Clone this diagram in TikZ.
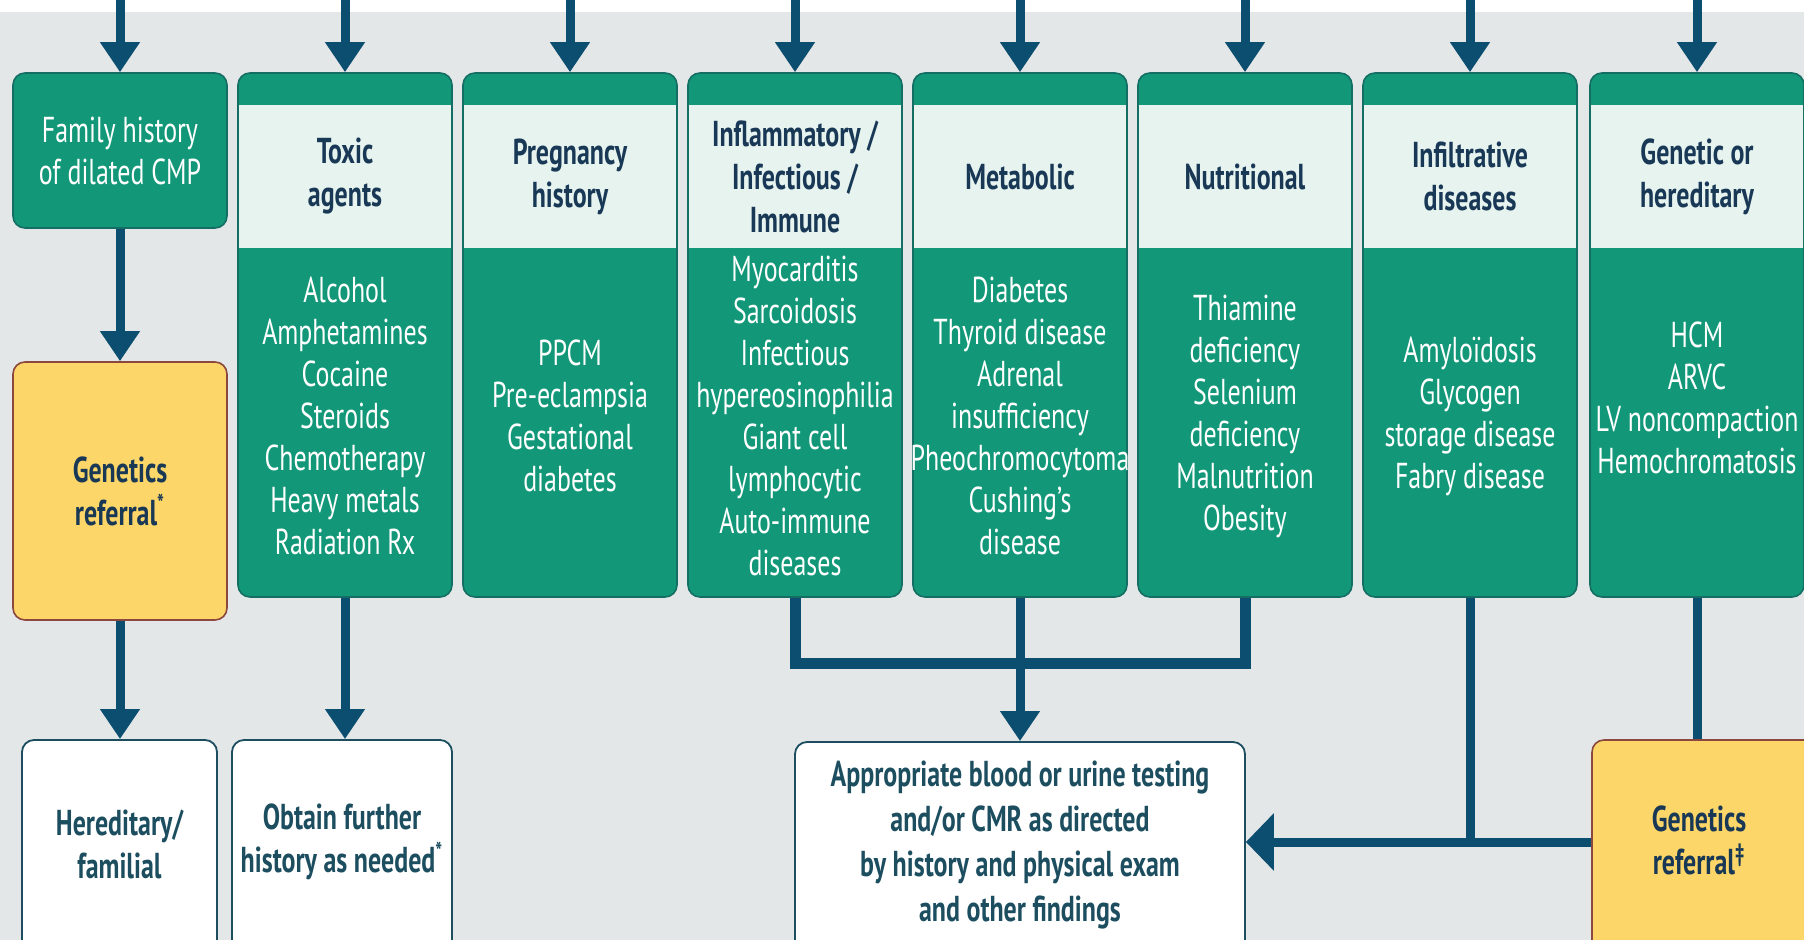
\documentclass[tikz,border=0pt]{standalone}
\usepackage{fontspec}
\setmainfont{PT Sans}[FakeStretch=0.72]
\usetikzlibrary{arrows.meta}
\definecolor{bggray}{RGB}{228,231,231}
\definecolor{grn}{RGB}{18,152,120}
\definecolor{grnedge}{RGB}{20,110,100}
\definecolor{hdrfill}{RGB}{230,243,239}
\definecolor{navy}{RGB}{12,78,112}
\definecolor{hdrtext}{RGB}{24,56,86}
\definecolor{boxtext}{RGB}{28,78,96}
\definecolor{yel}{RGB}{252,214,104}
\definecolor{yeledge}{RGB}{140,72,62}
\begin{document}
\begin{tikzpicture}[x=0.5pt,y=-0.5pt,
  font=\fontsize{18}{21}\selectfont,
  colbox/.style={draw=grnedge,fill=grn,line width=0.8pt,rounded corners=6pt,
    minimum width=107pt,minimum height=262pt,inner sep=0pt},
  hdr/.style={fill=hdrfill,minimum width=105.6pt,minimum height=71.5pt,inner sep=0pt,
    align=center,text=hdrtext,font=\fontsize{18}{21.5}\selectfont\bfseries},
  bodytxt/.style={align=center,text=white,inner sep=0pt},
  famstyle/.style={draw=grnedge,fill=grn,line width=0.8pt,rounded corners=6pt,
    minimum width=107pt,minimum height=77.5pt,inner sep=0pt,align=center,text=white},
  yelbox/.style={draw=yeledge,fill=yel,line width=0.8pt,rounded corners=6pt,inner sep=0pt},
  whitebox/.style={draw=boxtext,fill=white,line width=0.9pt,rounded corners=6pt,inner sep=0pt},
  btxt/.style={align=center,inner sep=0pt,font=\fontsize{18}{21.5}\selectfont\bfseries},
  conn/.style={draw=navy,line width=4.5pt},
  arr/.style={conn,-{Triangle[length=15pt,width=19pt]}},
  bigarr/.style={conn,-{Triangle[length=14pt,width=28pt]}}
]
\useasboundingbox (0,0) rectangle (1804,940);
\clip (0,0) rectangle (1804,940);
\fill[white] (0,0) rectangle (1804,940);
\fill[bggray] (0,12) rectangle (1804,940);

% top entry coordinates
\foreach \n/\x in {c0/120,c1/345,c2/570,c3/795,c4/1020,c5/1245,c6/1470,c7/1697}
  \coordinate (\n) at (\x,0);

% family history
\node[famstyle] (fam) at (120,150.5) {Family history\\of dilated CMP};

% column boxes
\node[colbox] (tox) at (345,335) {};
\node[colbox] (prg) at (570,335) {};
\node[colbox] (inf) at (795,335) {};
\node[colbox] (met) at (1020,335) {};
\node[colbox] (nut) at (1245,335) {};
\node[colbox] (ifl) at (1470,335) {};
\node[colbox] (gen) at (1697,335) {};

% headers
\node[hdr] (toxh) at (345,176.5) {Toxic\\agents};
\node[hdr] (prgh) at (570,176.5) {Pregnancy\\history};
\node[hdr] (infh) at (795,176.5) {Inflammatory /\\Infectious /\\Immune};
\node[hdr] (meth) at (1020,176.5) {Metabolic};
\node[hdr] (nuth) at (1245,176.5) {Nutritional};
\node[hdr] (iflh) at (1470,176.5) {Infiltrative\\diseases};
\node[hdr] (genh) at (1697,176.5) {Genetic or\\hereditary};

% bodies
\node[bodytxt] (toxb) at (345,416) {Alcohol\\Amphetamines\\Cocaine\\Steroids\\Chemotherapy\\Heavy metals\\Radiation Rx};
\node[bodytxt] (prgb) at (570,416) {PPCM\\Pre-eclampsia\\Gestational\\diabetes};
\node[bodytxt] (infb) at (795,416) {Myocarditis\\Sarcoidosis\\Infectious\\hypereosinophilia\\Giant cell\\lymphocytic\\Auto-immune\\diseases};
\node[bodytxt] (metb) at (1020,416) {Diabetes\\Thyroid disease\\Adrenal\\insufficiency\\Pheochromocytoma\\Cushing’s\\disease};
\node[bodytxt] (nutb) at (1245,416) {Thiamine\\deficiency\\Selenium\\deficiency\\Malnutrition\\Obesity};
\node[bodytxt] (iflb) at (1470,416) {Amyloïdosis\\Glycogen\\storage disease\\Fabry disease};
\node[bodytxt] (genb) at (1697,398) {HCM\\ARVC\\LV noncompaction\\Hemochromatosis};

% genetics referral left
\node[yelbox,minimum width=107pt,minimum height=129pt] (genL) at (120,491) {};
\node[btxt,text=hdrtext] (genLt) at (120,491) {Genetics\\referral\textsuperscript{*}};

% bottom boxes
\node[whitebox,minimum width=97.5pt,minimum height=110pt] (her) at (119.5,850) {};
\node[btxt,text=boxtext] (hert) at (119.5,844) {Hereditary/\\familial};
\node[whitebox,minimum width=110pt,minimum height=110pt] (obt) at (342,850) {};
\node[btxt,text=boxtext] (obtt) at (342,842) {Obtain further\\history as needed\textsuperscript{*}};
\node[whitebox,minimum width=225pt,minimum height=109pt] (app) at (1020,851) {};
\node[btxt,text=boxtext,font=\fontsize{18}{22.5}\selectfont\bfseries] (appt) at (1020,845) {Appropriate blood or urine testing\\and/or CMR as directed\\by history and physical exam\\and other findings};
\node[yelbox,minimum width=114pt,minimum height=110pt] (genR) at (1706,850) {};
\node[btxt,text=hdrtext] (genRt) at (1699,840) {Genetics\\referral\textsuperscript{‡}};

% top arrows
\draw[arr] (c0) -- (fam.north);
\draw[arr] (c1) -- (tox.north);
\draw[arr] (c2) -- (prg.north);
\draw[arr] (c3) -- (inf.north);
\draw[arr] (c4) -- (met.north);
\draw[arr] (c5) -- (nut.north);
\draw[arr] (c6) -- (ifl.north);
\draw[arr] (c7) -- (gen.north);

% left column
\draw[arr] (fam.south) -- (genL.north);
\draw[arr] (genL.south) -- (genL.south |- her.north);
\draw[arr] (tox.south) -- (tox.south |- obt.north);

% bracket
\coordinate (bl) at (795,663);
\draw[conn,line width=5.5pt,line join=miter] (inf.south) -- (bl) -| (nut.south);
\draw[arr] (met.south) -- (app.north);

% right side
\coordinate (jr) at (1470,842);
\draw[conn] (ifl.south) -- (jr);
\draw[conn] (gen.south) -- (gen.south |- genR.north);
\draw[bigarr] (genR.west |- jr) -- (app.east |- jr);
\end{tikzpicture}
\end{document}
